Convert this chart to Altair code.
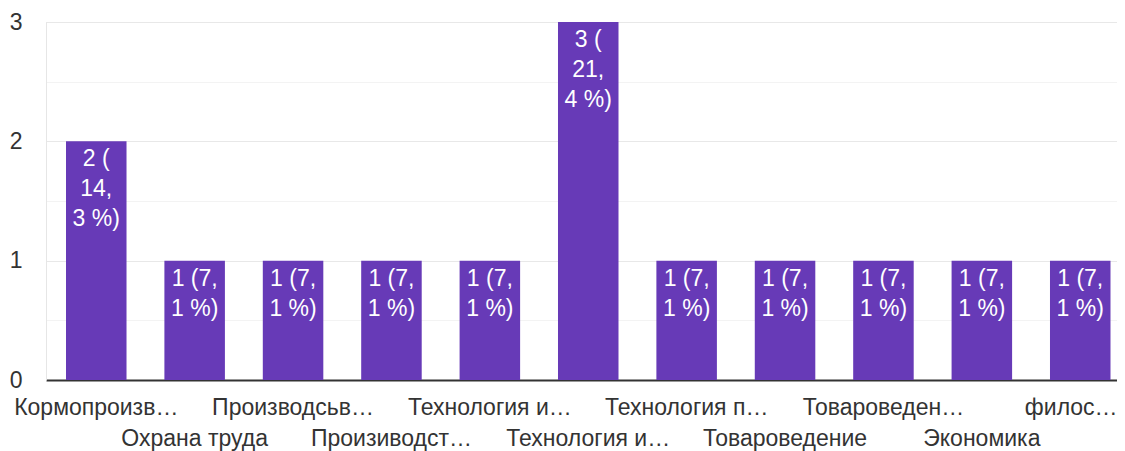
import re
import json
import altair as alt
import pandas as pd

# ---- data ----
categories = [
    "Кормопроизводство",
    "Охрана труда",
    "Производсьво продукции животноводства",
    "Произиводство продукции растениеводства",
    "Технология и организация производства",
    "Технология и оборудование переработки",
    "Технология производства продукции",
    "Товароведение",
    "Товароведение и экспертиза товаров",
    "Экономика",
    "философия",
]
tick_labels = [
    "Кормопроизв…",
    "Охрана труда",
    "Производсьв…",
    "Произиводст…",
    "Технология и…",
    "Технология и…",
    "Технология п…",
    "Товароведение",
    "Товароведен…",
    "Экономика",
    "филос…",
]
counts = [2, 1, 1, 1, 1, 3, 1, 1, 1, 1, 1]
y_ticks = [0, 0.5, 1, 1.5, 2, 2.5, 3]

total = sum(counts)


def wrap(text, maxlen=5):
    parts = re.split(r"(?<=[(,])", text)
    lines, cur = [], ""
    for p in parts:
        if cur and len(cur + p) > maxlen:
            lines.append(cur.strip())
            cur = p
        else:
            cur += p
    if cur:
        lines.append(cur.strip())
    return "\n".join(lines)


labels = []
for c in counts:
    pct = f"{c / total * 100:.1f}".replace(".", ",")
    labels.append(wrap(f"{c} ({pct} %)"))

df = pd.DataFrame({"cat": categories, "count": counts, "lbl": labels})

FONT = "Liberation Sans"
FS = 23
cats_js = json.dumps(categories, ensure_ascii=False)
ticks_js = json.dumps(tick_labels, ensure_ascii=False)
idx = f"indexof({cats_js}, datum.value)"

x_enc = alt.X(
    "cat:N",
    sort=categories,
    scale=alt.Scale(range=[0, 1084.5], paddingInner=0.385, paddingOuter=0.2033),
    axis=alt.Axis(
        title=None,
        ticks=False,
        grid=False,
        labelAngle=0,
        labelAlign="center",
        labelBaseline="alphabetic",
        labelOverlap=False,
        labelFlush=False,
        labelBound=False,
        labelLimit=400,
        labelFont=FONT,
        labelFontSize=FS,
        labelColor="#333333",
        labelExpr=f"{ticks_js}[{idx}]",
        labelPadding={
            "condition": {"test": f"{idx} % 2 == 1", "value": 65},
            "value": 34,
        },
        labelOffset={
            "condition": {"test": f"{idx} == {len(categories) - 1}", "value": -9},
            "value": 0,
        },
        domainColor="#333333",
        domainWidth=2,
    ),
)

y_enc = alt.Y(
    "count:Q",
    scale=alt.Scale(domain=[0, 3], nice=False),
    axis=alt.Axis(
        title=None,
        values=y_ticks,
        labelExpr="datum.value % 1 == 0 ? '' + datum.value : ''",
        ticks=False,
        labelPadding=24,
        labelFont=FONT,
        labelFontSize=FS,
        labelColor="#333333",
        domainColor="#e6e6e6",
        domainWidth=1,
        gridColor={
            "condition": {"test": "datum.value % 1 == 0", "value": "#e8e8e8"},
            "value": "#f3f3f3",
        },
        gridWidth=1,
    ),
)

bars = alt.Chart(df).mark_bar(color="#673ab7").encode(x=x_enc, y=y_enc)

text = alt.Chart(df).mark_text(
    color="white",
    font=FONT,
    fontSize=FS,
    align="center",
    baseline="top",
    lineBreak="\n",
    lineHeight=30,
    dy=7,
).encode(x=alt.X("cat:N", sort=categories), y="count:Q", text="lbl:N")

chart = (
    alt.layer(bars, text)
    .properties(
        width=1071,
        height=358,
        autosize=alt.AutoSizeParams(type="none"),
        padding={"left": 38, "top": 14, "right": 0, "bottom": 71},
    )
    .configure_view(stroke=None)
    .configure(background="white")
)

chart.save("out.html", embed_options={"renderer": "svg", "actions": False})
